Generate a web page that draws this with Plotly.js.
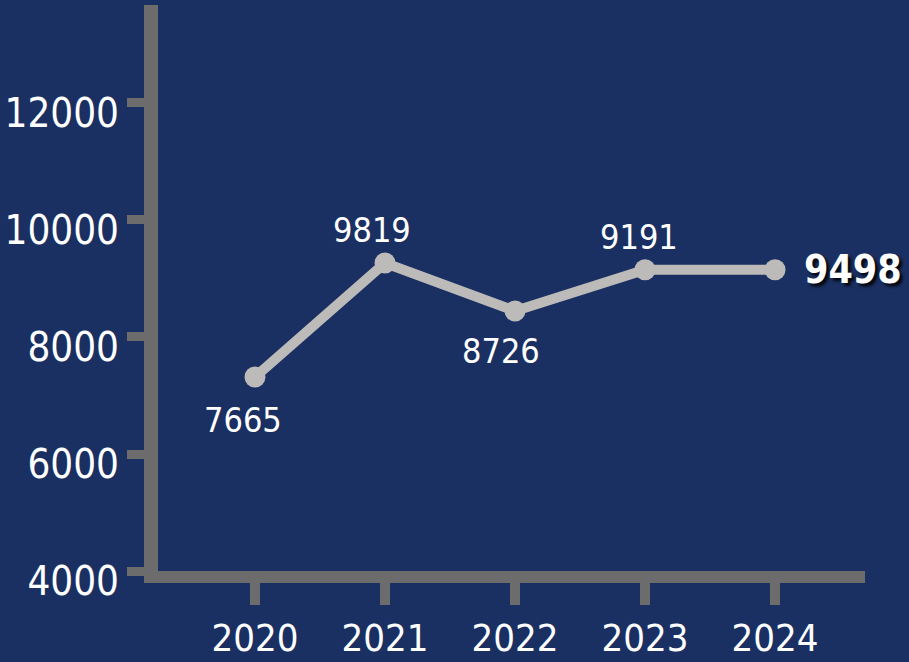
<!DOCTYPE html>
<html>
<head>
<meta charset="utf-8">
<script src="https://cdn.plot.ly/plotly-3.0.1.min.js"></script>
<style>
  html, body { margin: 0; padding: 0; background: #1b3062; }
  #chart { width: 909px; height: 662px; }
  #chart svg text { font-stretch: condensed; }
</style>
</head>
<body>
<div id="chart"></div>
<script>
// Categories (years)
const years = ['2020', '2021', '2022', '2023', '2024'];
// Printed data labels
const labelValues = [7665, 9819, 8726, 9191, 9498];
const plottedValues = [7316, 9265, 8444, 9150, 9150];
// Y tick values
const yTicks = [4000, 6000, 8000, 10000, 12000];

const FONT = 'DejaVu Sans Condensed, DejaVu Sans, sans-serif';
const BG = '#1b3062';
const AXIS = '#6c6c6c';
const LINE = '#bdbbb9';

const trace = {
  x: years,
  y: plottedValues,
  type: 'scatter',
  mode: 'lines+markers',
  line: { color: LINE, width: 10 },
  marker: { color: LINE, size: 21 },
  hoverinfo: 'skip',
  cliponaxis: false
};

// label placement relative to each point (pixels)
const offsets = [
  { xs: -12, ys: -43, anchor: 'center' },
  { xs: -13, ys: 33, anchor: 'center' },
  { xs: -14, ys: -40, anchor: 'center' },
  { xs: -6, ys: 33, anchor: 'center' },
  { xs: 27, ys: 0, anchor: 'left' }
];

const annotations = years.map(function (yr, i) {
  const last = i === years.length - 1;
  return {
    x: i,
    y: plottedValues[i],
    xref: 'x', yref: 'y',
    text: last ? '<b>' + labelValues[i] + '</b>' : String(labelValues[i]),
    showarrow: false,
    xanchor: offsets[i].anchor,
    yanchor: 'middle',
    xshift: offsets[i].xs,
    yshift: offsets[i].ys,
    font: { family: FONT, size: last ? 39 : 34, color: '#ffffff' }
  };
});

const layout = {
  width: 909,
  height: 662,
  paper_bgcolor: BG,
  plot_bgcolor: BG,
  margin: { l: 158, r: 44, t: 5, b: 91 },
  showlegend: false,
  xaxis: {
    type: 'category',
    range: [-0.746, 4.692],
    showgrid: false,
    zeroline: false,
    showline: true,
    linecolor: AXIS,
    linewidth: 12,
    ticks: 'outside',
    ticklen: 22,
    tickwidth: 10,
    tickcolor: AXIS,
    tickfont: { family: FONT, size: 38, color: '#ffffff' },
    fixedrange: true
  },
  yaxis: {
    range: [4000, 13675],
    tickvals: yTicks,
    ticktext: yTicks.map(String),
    showgrid: false,
    zeroline: false,
    showline: true,
    linecolor: AXIS,
    linewidth: 14,
    ticks: 'outside',
    ticklen: 17,
    tickwidth: 9,
    tickcolor: AXIS,
    ticklabelshift: 10,
    tickfont: { family: FONT, size: 40, color: '#ffffff' },
    fixedrange: true
  },
  annotations: annotations
};

Plotly.newPlot('chart', [trace], layout, { displayModeBar: false, staticPlot: true }).then(function () {
  const texts = document.querySelectorAll('#chart .annotation-text');
  if (texts.length) {
    texts[texts.length - 1].style.textShadow = '3px 3px 3px rgba(0,0,0,0.85)';
  }
}).catch(function (e) {
  document.body.insertAdjacentHTML('beforeend', '<pre style="color:red">' + e + '</pre>');
});
</script>
</body>
</html>
